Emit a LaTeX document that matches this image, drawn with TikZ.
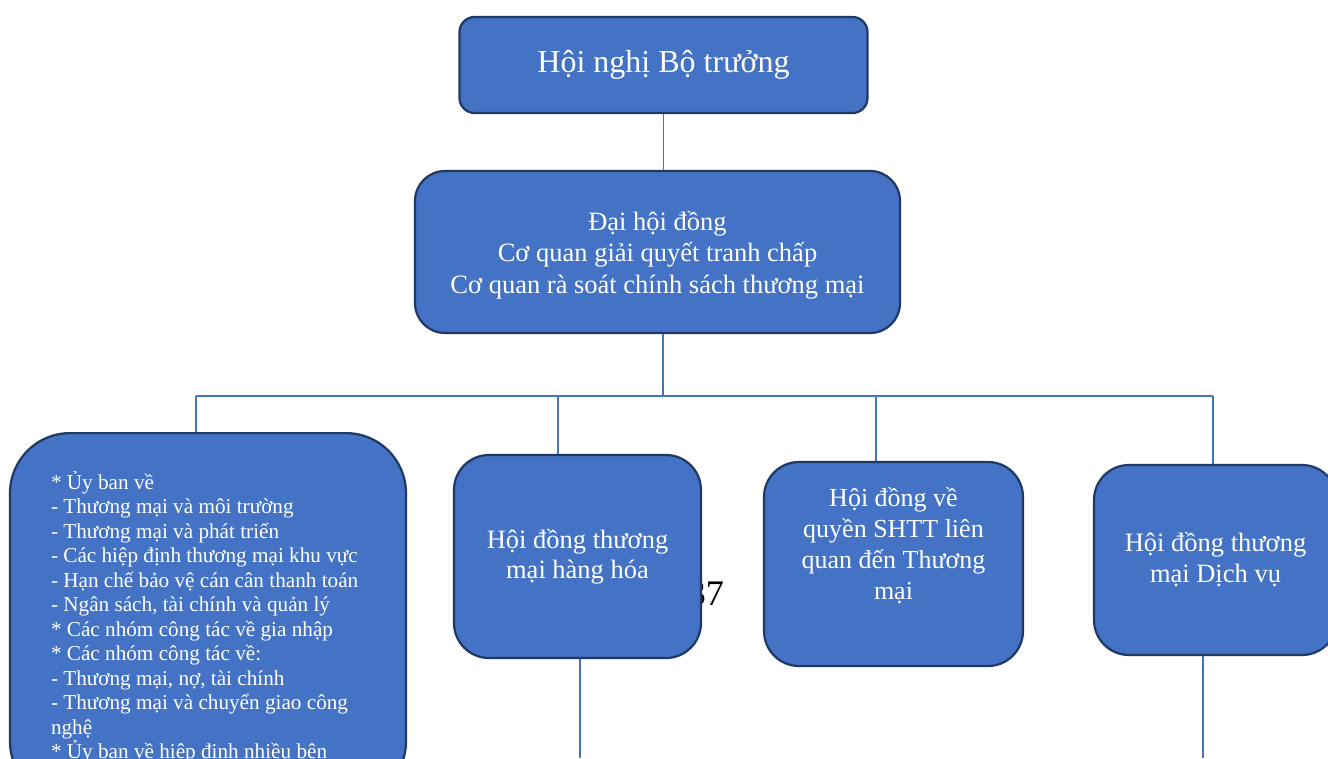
\documentclass[tikz,border=0pt]{standalone}
\usepackage{fontspec}
\setmainfont{Liberation Serif}
\usetikzlibrary{positioning}
\definecolor{boxblue}{HTML}{4472C4}
\definecolor{boxedge}{HTML}{1F3864}
\tikzset{
  orgbox/.style={draw=boxedge, line width=2.2pt, fill=boxblue, text=white,
    align=flush center, inner sep=0pt},
  link/.style={draw=boxblue, line width=1.2pt}
}

\begin{document}
\begin{tikzpicture}[x=1pt,y=-1pt]
  \useasboundingbox (0,0) rectangle (1328,758);
  \clip (0,0) rectangle (1328,758);
  \fill[white] (0,0) rectangle (1328,758);

  % page number behind the goods box
  \node[font=\fontsize{36}{40}\selectfont, anchor=base east, inner sep=0pt] (pagenum) at (724,605) {37};

  \node[orgbox, minimum width=408pt, minimum height=96pt, rounded corners=15pt,
        font=\fontsize{32}{38}\selectfont] (minconf) at (663.5,65) {Hội nghị Bộ trưởng};
  \node[orgbox, minimum width=485pt, minimum height=162pt, rounded corners=30pt,
        font=\fontsize{26.5}{31.5}\selectfont, text depth=-2pt] (assembly) at (657.5,252)
        {Đại hội đồng\\Cơ quan giải quyết tranh chấp\\Cơ quan rà soát chính sách thương mại};

  \node[orgbox, anchor=north, text width=314pt, inner xsep=41pt, inner ysep=38pt,
        rounded corners=60pt, align=flush left, font=\fontsize{21.2}{24.5}\selectfont] (committees) at (208,432)
        {{*} Ủy ban về\\
         - Thương mại và môi trường\\
         - Thương mại và phát triển\\
         - Các hiệp định thương mại khu vực\\
         - Hạn chế bảo vệ cán cân thanh toán\\
         - Ngân sách, tài chính và quản lý\\
         {*} Các nhóm công tác về gia nhập\\
         {*} Các nhóm công tác về:\\
         - Thương mại, nợ, tài chính\\
         - Thương mại và chuyển giao công\\
         nghệ\\
         {*} Ủy ban về hiệp định nhiều bên};

  \node[orgbox, minimum width=247pt, minimum height=203pt, rounded corners=35pt,
        font=\fontsize{26.5}{30}\selectfont] (goods) at (577.5,556.5)
        {Hội đồng thương\\mại hàng hóa};
  \node[orgbox, minimum width=259pt, minimum height=204pt, rounded corners=35pt,
        text width=220pt, font=\fontsize{26}{31}\selectfont] (trips) at (893.5,564)
        {Hội đồng về\\quyền SHTT liên\\quan đến Thương\\mại\par\kern37pt};
  \node[orgbox, minimum width=243pt, minimum height=190pt, rounded corners=35pt,
        font=\fontsize{26.5}{31}\selectfont] (services) at (1215.5,560)
        {Hội đồng thương\\mại Dịch vụ};

  \coordinate (bus) at (663,396);
  \foreach \x/\n in {196/dropL,558/dropG,876/dropT,1213/dropS} {
    \coordinate (\n) at (\x,396);
  }
  \coordinate (tailG) at (580,758);
  \coordinate (tailS) at (1203,758);

  \draw[link] (minconf.south) -- (minconf.south |- assembly.north);
  \draw[link] (assembly.south -| bus) -- (bus);
  \draw[link] (dropL) -- (dropS);
  \draw[link] (dropL) -- (dropL |- committees.north);
  \draw[link] (dropG) -- (dropG |- goods.north);
  \draw[link] (dropT) -- (dropT |- trips.north);
  \draw[link] (dropS) -- (dropS |- services.north);
  \draw[link] (tailG |- goods.south) -- (tailG);
  \draw[link] (tailS |- services.south) -- (tailS);
\end{tikzpicture}
\end{document}
